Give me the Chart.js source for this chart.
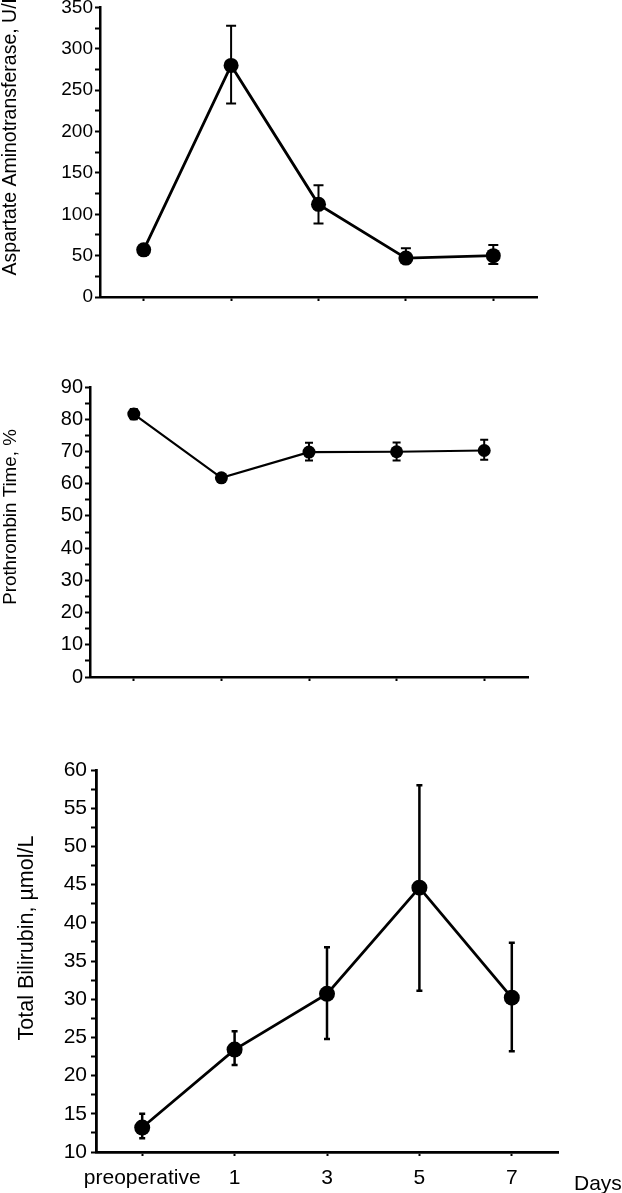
<!DOCTYPE html>
<html>
<head>
<meta charset="utf-8">
<script src="https://cdn.jsdelivr.net/npm/chart.js@4.4.1/dist/chart.umd.min.js"></script>
<style>
html, body { margin: 0; padding: 0; background: #fff; }
body { width: 622px; height: 1193px; position: relative; overflow: hidden; }
canvas { position: absolute; left: 0; }
</style>
</head>
<body>
<canvas id="ast" width="622" height="330" style="top:0"></canvas>
<canvas id="pt" width="622" height="380" style="top:330px"></canvas>
<canvas id="tb" width="622" height="483" style="top:710px"></canvas>
<script>
const days = ['preoperative', '1', '3', '5', '7'];

// aspartate aminotransferase, U/L
const astMean = [57, 280, 112, 47, 50];
const astHigh = [60, 328, 135, 59, 63];
const astLow = [54, 234, 89, 41, 40];

// prothrombin time, %
const ptMean = [81.6, 61.8, 69.8, 69.9, 70.3];
const ptHigh = [83.2, 63.0, 72.7, 72.8, 73.6];
const ptLow = [80.0, 60.6, 67.2, 67.2, 67.4];

// total bilirubin, umol/L
const tbMean = [13.2, 23.4, 30.7, 44.6, 30.2];
const tbHigh = [15.0, 25.8, 36.8, 58.0, 37.4];
const tbLow = [11.8, 21.4, 24.8, 31.1, 23.2];

const FONT = '"Liberation Sans", Arial, Helvetica, sans-serif';
Chart.defaults.font.family = FONT;
Chart.defaults.color = '#000';

const errorBars = {
  id: 'errorBars',
  afterDatasetsDraw(chart, args, opts) {
    const ctx = chart.ctx;
    const y = chart.scales.y;
    const meta = chart.getDatasetMeta(0);
    ctx.save();
    ctx.strokeStyle = '#000';
    ctx.lineWidth = opts.width;
    meta.data.forEach((pt, i) => {
      const t = y.getPixelForValue(opts.high[i]);
      const b = y.getPixelForValue(opts.low[i]);
      const c = opts.cap / 2;
      ctx.beginPath();
      ctx.moveTo(pt.x, t); ctx.lineTo(pt.x, b);
      ctx.moveTo(pt.x - c, t); ctx.lineTo(pt.x + c, t);
      ctx.moveTo(pt.x - c, b); ctx.lineTo(pt.x + c, b);
      ctx.stroke();
    });
    ctx.restore();
  }
};

const sideText = {
  id: 'sideText',
  afterDraw(chart, args, opts) {
    const ctx = chart.ctx;
    (opts.items || []).forEach(it => {
      ctx.save();
      ctx.font = it.size + 'px ' + FONT;
      ctx.fillStyle = '#000';
      ctx.textAlign = it.align || 'center';
      ctx.textBaseline = 'alphabetic';
      ctx.translate(it.x, it.y);
      if (it.rotate) ctx.rotate(-Math.PI / 2);
      ctx.fillText(it.text, 0, 0);
      ctx.restore();
    });
  }
};

function panel(id, p) {
  const canvas = document.getElementById(id);
  const h = canvas.height;
  return new Chart(canvas, {
    type: 'line',
    data: {
      labels: days,
      datasets: [{
        data: p.mean,
        borderColor: '#000',
        backgroundColor: '#000',
        borderWidth: p.line,
        pointRadius: p.radius,
        pointHoverRadius: p.radius,
        pointBackgroundColor: '#000',
        pointBorderWidth: 0,
        tension: 0
      }]
    },
    plugins: [errorBars, sideText],
    options: {
      responsive: false,
      animation: false,
      events: [],
      layout: { padding: { top: p.area.top, right: 622 - p.area.right, left: 0, bottom: 0 } },
      plugins: {
        legend: { display: false },
        tooltip: { enabled: false },
        errorBars: { high: p.high, low: p.low, width: p.errW, cap: p.cap },
        sideText: { items: p.texts }
      },
      scales: {
        x: {
          type: 'category',
          offset: true,
          grid: { drawOnChartArea: false, tickLength: 4, tickWidth: 2, tickColor: '#000' },
          border: { color: '#000', width: p.axisW },
          ticks: {
            display: p.xLabels,
            autoSkip: false,
            maxRotation: 0,
            padding: 10,
            font: { size: p.xFont }
          },
          afterFit(s) {
            s.height = h - p.area.bottom;
            s.paddingLeft = 0;
            s.paddingRight = 0;
          }
        },
        y: {
          min: p.min,
          max: p.max,
          grid: { drawOnChartArea: false, tickLength: 5, tickWidth: 2, tickColor: '#000' },
          border: { color: '#000', width: p.axisW },
          ticks: {
            stepSize: p.step,
            autoSkip: false,
            padding: p.tickPad,
            font: { size: p.yFont },
            callback: v => (Math.abs(v % p.labelStep) < 1e-6 ? String(v) : '')
          },
          afterFit(s) {
            s.width = p.area.left;
            s.paddingTop = 0;
            s.paddingBottom = 0;
          }
        }
      }
    }
  });
}

panel('ast', {
  mean: astMean, high: astHigh, low: astLow,
  min: 0, max: 350, step: 25, labelStep: 50,
  area: { left: 100, right: 537, top: 7, bottom: 297 },
  line: 2.8, radius: 7.5, errW: 2, cap: 10, axisW: 2.5,
  yFont: 19, xFont: 20, tickPad: 2, xLabels: false,
  texts: [{ text: 'Aspartate Aminotransferase, U/L', x: 16, y: 134, size: 19.5, rotate: true }]
});

panel('pt', {
  mean: ptMean, high: ptHigh, low: ptLow,
  min: 0, max: 90, step: 5, labelStep: 10,
  area: { left: 90, right: 528, top: 57, bottom: 347 },
  line: 2.2, radius: 6.5, errW: 2, cap: 8, axisW: 2.5,
  yFont: 20, xFont: 20, tickPad: 2, xLabels: false,
  texts: [{ text: 'Prothrombin Time, %', x: 16, y: 187, size: 18.8, rotate: true }]
});

panel('tb', {
  mean: tbMean, high: tbHigh, low: tbLow,
  min: 10, max: 60, step: 2.5, labelStep: 5,
  area: { left: 96, right: 558, top: 60, bottom: 442 },
  line: 2.8, radius: 8, errW: 2.5, cap: 6, axisW: 2.8,
  yFont: 21, xFont: 21, tickPad: 4, xLabels: true,
  texts: [
    { text: 'Total Bilirubin, \u00b5mol/L', x: 33, y: 228, size: 21.5, rotate: true },
    { text: 'Days', x: 574, y: 480, size: 21, align: 'left' }
  ]
});
</script>
</body>
</html>
